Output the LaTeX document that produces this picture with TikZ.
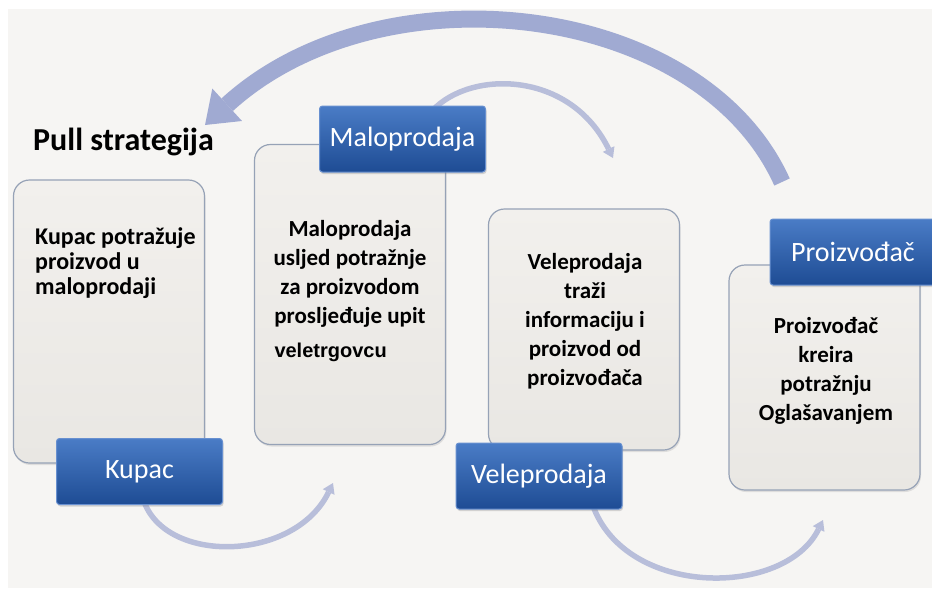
\documentclass[tikz,border=0pt]{standalone}
\usepackage{fontspec}
\setmainfont{Carlito}
\newfontfamily\arialfont{Liberation Sans}
\usetikzlibrary{arrows.meta,shadows,backgrounds}
\definecolor{bgcol}{RGB}{246,245,243}
\definecolor{boxtop}{RGB}{242,240,237}
\definecolor{boxbot}{RGB}{233,231,227}
\definecolor{boxline}{RGB}{150,162,182}
\definecolor{labtop}{RGB}{74,124,198}
\definecolor{labbot}{RGB}{30,76,148}
\definecolor{labline}{RGB}{104,144,208}
\definecolor{arrcol}{RGB}{160,170,210}
\definecolor{arcol}{RGB}{184,190,218}
\begin{document}
\begin{tikzpicture}[x=1pt,y=-1pt,
infobox/.style={draw=boxline,line width=1.2pt,rounded corners=16pt,top color=boxtop,bottom color=boxbot,drop shadow={opacity=0.2,shadow xshift=1pt,shadow yshift=-2pt},minimum width=191pt,inner sep=0pt},
steplab/.style={draw=labline,line width=1pt,rounded corners=3pt,top color=labtop,bottom color=labbot,text=white,font=\fontsize{28}{32}\selectfont,minimum width=166pt,minimum height=66pt,drop shadow={opacity=0.3,shadow xshift=1pt,shadow yshift=-2pt}},
boxtxt/.style={align=center,font=\fontsize{23}{29}\selectfont\bfseries},
bigarrow/.style={draw=arrcol,line width=17pt,-{Triangle[width=44pt,length=30pt,line width=0pt]}},
arc/.style={draw=arcol,line width=5.5pt,-{Triangle[width=13pt,length=10pt,line width=0pt]}}]
\useasboundingbox (0,0) rectangle (932,590);
\node[font=\fontsize{32}{36}\selectfont\bfseries,anchor=base west,inner sep=0pt] (title) at (33,150) {Pull strategija};
\node[infobox,minimum height=283pt] (kbox) at (109,321.5) {};
\node[infobox,minimum height=300pt] (mbox) at (350,294.5) {};
\node[infobox,minimum height=241pt] (vbox) at (584,329.5) {};
\node[infobox,minimum height=225pt] (pbox) at (824.5,377.5) {};
\node[boxtxt,align=left,font=\fontsize{24}{25}\selectfont\bfseries,anchor=west,inner sep=0pt] (ktxt) at (35,263) {Kupac potražuje\\proizvod u\\maloprodaji};
\node[boxtxt] (mtxt) at (350,291) {Maloprodaja\\usljed potražnje\\za proizvodom\\prosljeđuje upit\\[5pt]\makebox[151pt][l]{\arialfont\fontsize{20}{24}\selectfont veletrgovcu}};
\node[boxtxt] (vtxt) at (585,321.5) {Veleprodaja\\traži\\informaciju i\\proizvod od\\proizvođača};
\node[boxtxt] (ptxt) at (826,371) {Proizvođač\\kreira\\potražnju\\Oglašavanjem};
\node[steplab] (kupac) at (139.5,471.5) {Kupac};
\node[steplab] (malo) at (402.5,139) {Maloprodaja};
\node[steplab] (vele) at (539,476) {Veleprodaja};
\node[steplab] (proiz) at (853,252) {Proizvođač};
\coordinate (pulltail) at (782,182);
\coordinate (pulltip) at (205,125);
\coordinate (maloend) at (613,158);
\coordinate (kupacend) at (333,483);
\coordinate (veleend) at (823,520);
\begin{pgfonlayer}{background}
\fill[white] (0,0) rectangle (932,590);
\fill[bgcol] (8,9) rectangle (932,588);
\draw[bigarrow] (pulltail) .. controls (700,0) and (380,-35) .. (pulltip);
\draw[arc] ([xshift=30pt,yshift=-5pt]malo.north) .. controls (470,70) and (570,70) .. (maloend);
\draw[arc] ([xshift=4pt,yshift=5pt]kupac.south) .. controls (165,565) and (295,562) .. (kupacend);
\draw[arc] ([xshift=-30pt,yshift=5pt]vele.south east) .. controls (625,598) and (785,598) .. (veleend);
\end{pgfonlayer}
\end{tikzpicture}
\end{document}
